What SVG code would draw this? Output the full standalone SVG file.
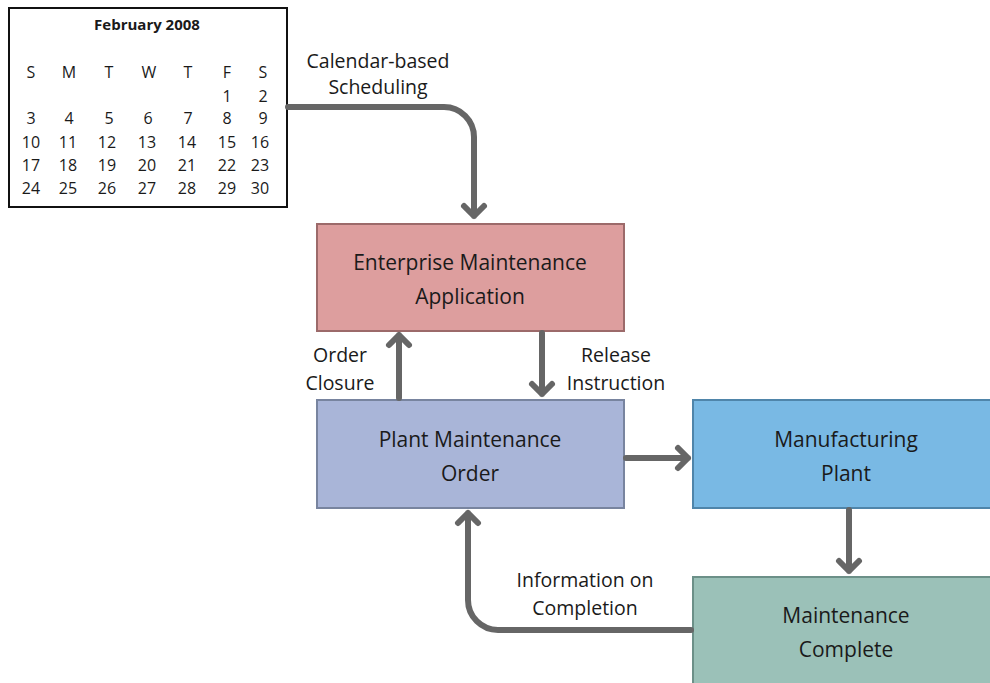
<svg xmlns="http://www.w3.org/2000/svg" width="990" height="683" viewBox="0 0 990 683">
<defs>
<style>
text{font-family:"Open Sans","Liberation Sans",sans-serif;fill:#1a1a1a;text-anchor:middle}
.box{font-size:21px}
.lbl{font-size:19.5px}
.cal{font-size:16px}
.calt{font-size:15px;font-weight:bold}
.conn{fill:none;stroke:#666;stroke-width:6;stroke-linecap:round;stroke-linejoin:round}
</style>
</defs>
<rect width="990" height="683" fill="#fff"/>
<g id="calendar">
<rect x="9" y="8" width="278" height="199" fill="#fff" stroke="#111" stroke-width="2"/>
<text class="calt" x="147" y="30">February 2008</text>
<g class="cal">
<text class="cal" x="31" y="78">S</text><text class="cal" x="69" y="78">M</text><text class="cal" x="109" y="78">T</text><text class="cal" x="149" y="78">W</text><text class="cal" x="188" y="78">T</text><text class="cal" x="227" y="78">F</text><text class="cal" x="263" y="78">S</text>
<text class="cal" x="227" y="102">1</text><text class="cal" x="263" y="102">2</text>
<text class="cal" x="31" y="124">3</text><text class="cal" x="69" y="124">4</text><text class="cal" x="109" y="124">5</text><text class="cal" x="148" y="124">6</text><text class="cal" x="188" y="124">7</text><text class="cal" x="227" y="124">8</text><text class="cal" x="263" y="124">9</text>
<text class="cal" x="31" y="148">10</text><text class="cal" x="68" y="148">11</text><text class="cal" x="107" y="148">12</text><text class="cal" x="147" y="148">13</text><text class="cal" x="187" y="148">14</text><text class="cal" x="227" y="148">15</text><text class="cal" x="260" y="148">16</text>
<text class="cal" x="31" y="171">17</text><text class="cal" x="68" y="171">18</text><text class="cal" x="107" y="171">19</text><text class="cal" x="147" y="171">20</text><text class="cal" x="187" y="171">21</text><text class="cal" x="227" y="171">22</text><text class="cal" x="260" y="171">23</text>
<text class="cal" x="31" y="194">24</text><text class="cal" x="68" y="194">25</text><text class="cal" x="107" y="194">26</text><text class="cal" x="147" y="194">27</text><text class="cal" x="187" y="194">28</text><text class="cal" x="227" y="194">29</text><text class="cal" x="260" y="194">30</text>
</g>
</g>
<g id="ema">
<rect x="317" y="224" width="307" height="107" fill="#dd9e9e" stroke="#9c6a6a" stroke-width="2"/>
<text class="box" x="470" y="270">Enterprise Maintenance</text>
<text class="box" x="470" y="304">Application</text>
</g>
<g id="pmo">
<rect x="317" y="400" width="307" height="108" fill="#a9b5d8" stroke="#78849f" stroke-width="2"/>
<text class="box" x="470" y="447">Plant Maintenance</text>
<text class="box" x="470" y="481">Order</text>
</g>
<g id="mp">
<rect x="693" y="400" width="310" height="108" fill="#79b9e4" stroke="#4f85aa" stroke-width="2"/>
<text class="box" x="846" y="447">Manufacturing</text>
<text class="box" x="846" y="481">Plant</text>
</g>
<g id="mc">
<rect x="693" y="577" width="310" height="110" fill="#9bc1b8" stroke="#6c9088" stroke-width="2"/>
<text class="box" x="846" y="623">Maintenance</text>
<text class="box" x="846" y="657">Complete</text>
</g>
<g id="connectors">
<path class="conn" d="M288 107 H444 A30 30 0 0 1 474 137 V216 M464 206 L474 216 L484 206"/>
<path class="conn" d="M399 398 V335 M389 345 L399 335 L409 345"/>
<path class="conn" d="M542 333 V394 M532 384 L542 394 L552 384"/>
<path class="conn" d="M626 458 H688 M678 448 L688 458 L678 468"/>
<path class="conn" d="M849 510 V571 M839 561 L849 571 L859 561"/>
<path class="conn" d="M691 630 H498 A30 30 0 0 1 468 600 V513 M458 523 L468 513 L478 523"/>
</g>
<g id="labels">
<text class="lbl" x="378" y="68">Calendar-based</text>
<text class="lbl" x="378" y="94">Scheduling</text>
<text class="lbl" x="340" y="362">Order</text>
<text class="lbl" x="340" y="390">Closure</text>
<text class="lbl" x="616" y="362">Release</text>
<text class="lbl" x="616" y="390">Instruction</text>
<text class="lbl" x="585" y="587">Information on</text>
<text class="lbl" x="585" y="615">Completion</text>
</g>
</svg>
